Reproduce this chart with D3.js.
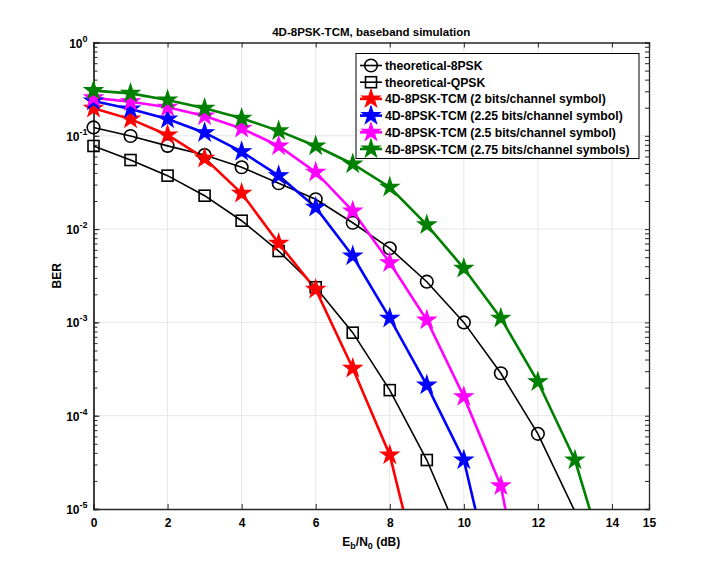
<!DOCTYPE html>
<html><head><meta charset="utf-8">
<script src="https://cdn.jsdelivr.net/npm/d3@7"></script>
<style>body{margin:0;background:#fff}svg{font-family:"Liberation Sans",Arial,sans-serif}</style>
</head><body><svg id="c" width="718" height="572"></svg>
<script>
const ebn0 = [0,1,2,3,4,5,6,7,8,9,10,11,12,13,14];
const theory8psk = [0.123,0.0995,0.078,0.0622,0.046,0.031,0.0209,0.0117,0.00622,0.00273,0.001,2.85e-4,6.4e-5,9.4e-6];
const theoryQpsk = [0.0778,0.055,0.0374,0.0228,0.0123,0.00582,0.00238,7.76e-4,1.88e-4,3.35e-5,4e-6];
const tcm200 = [0.197,0.151,0.102,0.0574,0.0242,0.00705,0.00226,3.22e-4,3.79e-5,9.3e-7];
const tcm225 = [0.236,0.194,0.151,0.108,0.0676,0.0374,0.0171,0.00515,0.00111,2.13e-4,3.35e-5,6.8e-7];
const tcm250 = [0.255,0.232,0.202,0.163,0.12,0.0778,0.0407,0.0156,0.00436,0.00106,1.6e-4,1.77e-5,1.6e-7];
const tcm275 = [0.305,0.285,0.242,0.197,0.154,0.113,0.0778,0.0499,0.0281,0.0111,0.0038,0.00111,2.31e-4,3.35e-5,1.6e-6];
const seriesNames = ["theoretical-8PSK","theoretical-QPSK","4D-8PSK-TCM (2 bits/channel symbol)","4D-8PSK-TCM (2.25 bits/channel symbol)","4D-8PSK-TCM (2.5 bits/channel symbol)","4D-8PSK-TCM (2.75 bits/channel symbols)"];
const xTicks = [0,2,4,6,8,10,12,14,15];
const yTickExps = [0,-1,-2,-3,-4,-5];
const titleText = "4D-8PSK-TCM, baseband simulation";

const series = [
  {name:seriesNames[0], vals:theory8psk, color:"#000", marker:"circle", w:1.6},
  {name:seriesNames[1], vals:theoryQpsk, color:"#000", marker:"square", w:1.6},
  {name:seriesNames[2], vals:tcm200, color:"#ff0000", marker:"star", w:2.6},
  {name:seriesNames[3], vals:tcm225, color:"#0000ff", marker:"star", w:2.6},
  {name:seriesNames[4], vals:tcm250, color:"#ff00ff", marker:"star", w:2.6},
  {name:seriesNames[5], vals:tcm275, color:"#008000", marker:"star", w:2.6}
];

const L=93.5, R=649, T=42.5, B=509;
const svg = d3.select("#c");
const x = d3.scaleLinear().domain([0,15]).range([L,R]);
const y = d3.scaleLog().domain([1e-5,1]).range([B,T]);

// grid
const g = svg.append("g");
xTicks.filter(t=>t>0&&t<15).forEach(t=>g.append("line").attr("x1",x(t)).attr("x2",x(t)).attr("y1",T).attr("y2",B).attr("stroke","#e6e6e6").attr("stroke-width",1));
yTickExps.filter(e=>e<0&&e>-5).forEach(e=>g.append("line").attr("x1",L).attr("x2",R).attr("y1",y(Math.pow(10,e))).attr("y2",y(Math.pow(10,e))).attr("stroke","#e6e6e6").attr("stroke-width",1));

// axes
const axCol="#262626";
const xAxB = d3.axisBottom(x).tickValues(xTicks).tickSize(-5).tickPadding(9).tickFormat(d3.format("d"));
const xAxT = d3.axisTop(x).tickValues(xTicks).tickSize(-5).tickFormat("");
const minor = [];
for (let e=-5;e<0;e++) for (let m=1;m<10;m++) minor.push(m*Math.pow(10,e));
minor.push(1);
const yAxL = d3.axisLeft(y).tickValues(minor).tickSize(-4).tickFormat("");
const yAxR = d3.axisRight(y).tickValues(minor).tickSize(-4).tickFormat("");
const yAxL2 = d3.axisLeft(y).tickValues(yTickExps.map(e=>Math.pow(10,e))).tickSize(-6).tickPadding(6).tickFormat("");
function styleAxis(sel){sel.selectAll("path").attr("stroke",axCol).attr("stroke-width",1.3);sel.selectAll("line").attr("stroke",axCol);sel.selectAll("text").attr("fill","#000").attr("font-size","12px").attr("font-weight","bold").attr("font-family","Liberation Sans, Arial, sans-serif");}
styleAxis(svg.append("g").attr("transform",`translate(0,${B})`).call(xAxB));
styleAxis(svg.append("g").attr("transform",`translate(0,${T})`).call(xAxT));
styleAxis(svg.append("g").attr("transform",`translate(${L},0)`).call(yAxL));
styleAxis(svg.append("g").attr("transform",`translate(${R},0)`).call(yAxR));
styleAxis(svg.append("g").attr("transform",`translate(${L},0)`).call(yAxL2));
// y labels
yTickExps.forEach(e=>{
  const t = svg.append("text").attr("x",L-6).attr("y",y(Math.pow(10,e))+5).attr("text-anchor","end").attr("font-size","12px").attr("font-weight","bold").attr("fill","#000");
  t.append("tspan").text("10");
  t.append("tspan").attr("dy",-6).attr("font-size","9px").text(String(e));
});

// clip
svg.append("clipPath").attr("id","clip").append("rect").attr("x",L).attr("y",T).attr("width",R-L).attr("height",B-T);

const star = d3.symbol().type(d3.symbolStar);
function drawMarker(sel, s, cx, cy){
  if (s.marker==="circle") sel.append("circle").attr("cx",cx).attr("cy",cy).attr("r",6.3).attr("fill","none").attr("stroke",s.color).attr("stroke-width",1.6);
  else if (s.marker==="square") sel.append("rect").attr("x",cx-5.5).attr("y",cy-5.5).attr("width",11).attr("height",11).attr("fill","none").attr("stroke",s.color).attr("stroke-width",1.6);
  else sel.append("path").attr("d",star.size(100)()).attr("transform",`translate(${cx},${cy})`).attr("fill",s.color).attr("stroke",s.color).attr("stroke-width",1.2).attr("stroke-linejoin","miter");
}

const plot = svg.append("g").attr("clip-path","url(#clip)");
const line = d3.line().x((d,i)=>x(ebn0[i])).y(d=>y(d));
series.forEach(s=>{
  plot.append("path").attr("d",line(s.vals)).attr("fill","none").attr("stroke",s.color).attr("stroke-width",s.w);
});
series.forEach(s=>{
  const mg = svg.append("g");
  s.vals.forEach((v,i)=>{ if (v>=1e-5 && v<=1) drawMarker(mg,s,x(ebn0[i]),y(v)); });
});

// title & labels
svg.append("text").attr("x",(L+R)/2).attr("y",36).attr("text-anchor","middle").attr("font-size","11.5px").attr("font-weight","bold").text(titleText);
const xl = svg.append("text").attr("x",(L+R)/2).attr("y",546).attr("text-anchor","middle").attr("font-size","12px").attr("font-weight","bold");
xl.append("tspan").text("E");
xl.append("tspan").attr("dy",3).attr("font-size","9px").text("b");
xl.append("tspan").attr("dy",-3).text("/N");
xl.append("tspan").attr("dy",3).attr("font-size","9px").text("0");
xl.append("tspan").attr("dy",-3).text(" (dB)");
svg.append("text").attr("transform",`translate(61,${(T+B)/2}) rotate(-90)`).attr("text-anchor","middle").attr("font-size","12px").attr("font-weight","bold").text("BER");

// legend
const lg = svg.append("g");
lg.append("rect").attr("x",356).attr("y",53.5).attr("width",283).attr("height",105).attr("fill","#fff").attr("stroke","#000").attr("stroke-width",1);
series.forEach((s,i)=>{
  const cy = 65.5 + i*16.7;
  lg.append("line").attr("x1",360).attr("x2",382).attr("y1",cy).attr("y2",cy).attr("stroke",s.color).attr("stroke-width",s.w);
  drawMarker(lg,s,371,cy);
  lg.append("text").attr("x",385).attr("y",cy+4.5).attr("font-size","12.2px").attr("font-weight","bold").text(s.name);
});
</script></body></html>
